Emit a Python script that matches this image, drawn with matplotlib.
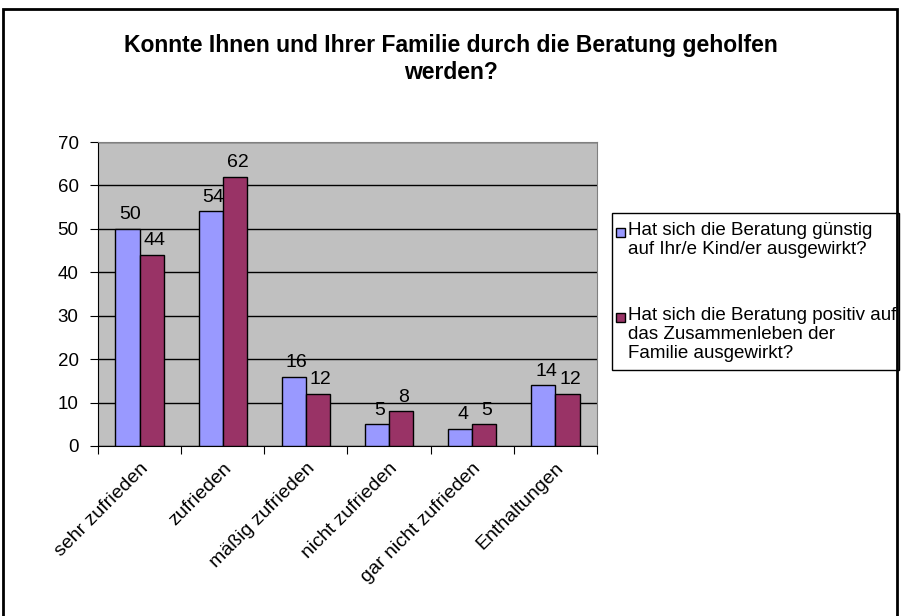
import numpy as np
import matplotlib.pyplot as plt
from matplotlib.patches import Rectangle

plt.rcParams['font.family'] = ['Liberation Sans', 'DejaVu Sans']

categories = ['sehr zufrieden', 'zufrieden', 'mäßig zufrieden', 'nicht zufrieden',
              'gar nicht zufrieden', 'Enthaltungen']
kind = [50, 54, 16, 5, 4, 14]
familie = [44, 62, 12, 8, 5, 12]
labels = ['Hat sich die Beratung günstig\nauf Ihr/e Kind/er ausgewirkt?',
          'Hat sich die Beratung positiv auf\ndas Zusammenleben der\nFamilie ausgewirkt?']
colors = ['#9999FF', '#993366']

W, H = 901, 616
fig = plt.figure(figsize=(W / 100, H / 100), dpi=100)
ax = fig.add_axes([98 / W, 1 - 446 / H, (597 - 98) / W, (446 - 142) / H])
ax.set_facecolor('#C0C0C0')

x = np.arange(len(categories))
w = 0.29
b1 = ax.bar(x - w / 2, kind, w, color=colors[0], edgecolor='black', linewidth=1, zorder=3)
b2 = ax.bar(x + w / 2, familie, w, color=colors[1], edgecolor='black', linewidth=1, zorder=3)
for bars in (b1, b2):
    for r in bars:
        ax.annotate(str(int(r.get_height())), (r.get_x() + r.get_width() / 2, r.get_height()),
                    xytext=(2, 4), textcoords='offset points', ha='center', va='bottom',
                    fontsize=14)

ax.set_xlim(-0.5, len(categories) - 0.5)
ax.set_ylim(0, 70)
ax.set_yticks(range(0, 71, 10))
ax.yaxis.grid(True, color='black', linewidth=1, zorder=0)
ax.set_axisbelow(True)
ax.set_xticks(np.arange(-0.5, len(categories), 1))
ax.set_xticklabels([])
ax.set_xticks(x, minor=True)
ax.set_xticklabels(categories, minor=True, rotation=45, ha='right', rotation_mode='anchor',
                   fontsize=14)
ax.tick_params(axis='x', which='minor', length=0, pad=10)
ax.tick_params(axis='x', which='major', length=6, direction='out')
ax.tick_params(axis='y', length=6, labelsize=13.5, pad=8)
for s in ('top', 'right'):
    ax.spines[s].set_color('#808080')
for s in ('left', 'bottom'):
    ax.spines[s].set_color('black')

fig.text(0.5, 1 - 59 / H, 'Konnte Ihnen und Ihrer Familie durch die Beratung geholfen\nwerden?',
         ha='center', va='center', fontsize=16.5, fontweight='bold', linespacing=1.2)

# legend box drawn by hand so the keys sit on the first text line
fig.patches.append(Rectangle((612 / W, 1 - 370 / H), (899 - 612) / W, (370 - 213) / H,
                             transform=fig.transFigure, facecolor='white', edgecolor='black',
                             linewidth=1))
for lab, col, ytop in zip(labels, colors, [222, 307]):
    fig.patches.append(Rectangle((616 / W, 1 - (ytop + 15) / H), 9 / W, 9 / H,
                                 transform=fig.transFigure, facecolor=col, edgecolor='black',
                                 linewidth=1))
    fig.text(628 / W, 1 - ytop / H, lab, ha='left', va='top', fontsize=13.5, linespacing=1.15)

fig.patches.append(Rectangle((3 / W, -0.01), 894 / W, 1 - 3 / H, transform=fig.transFigure,
                             fill=False, edgecolor='black', linewidth=2))

fig.savefig('out.png', dpi=100)
